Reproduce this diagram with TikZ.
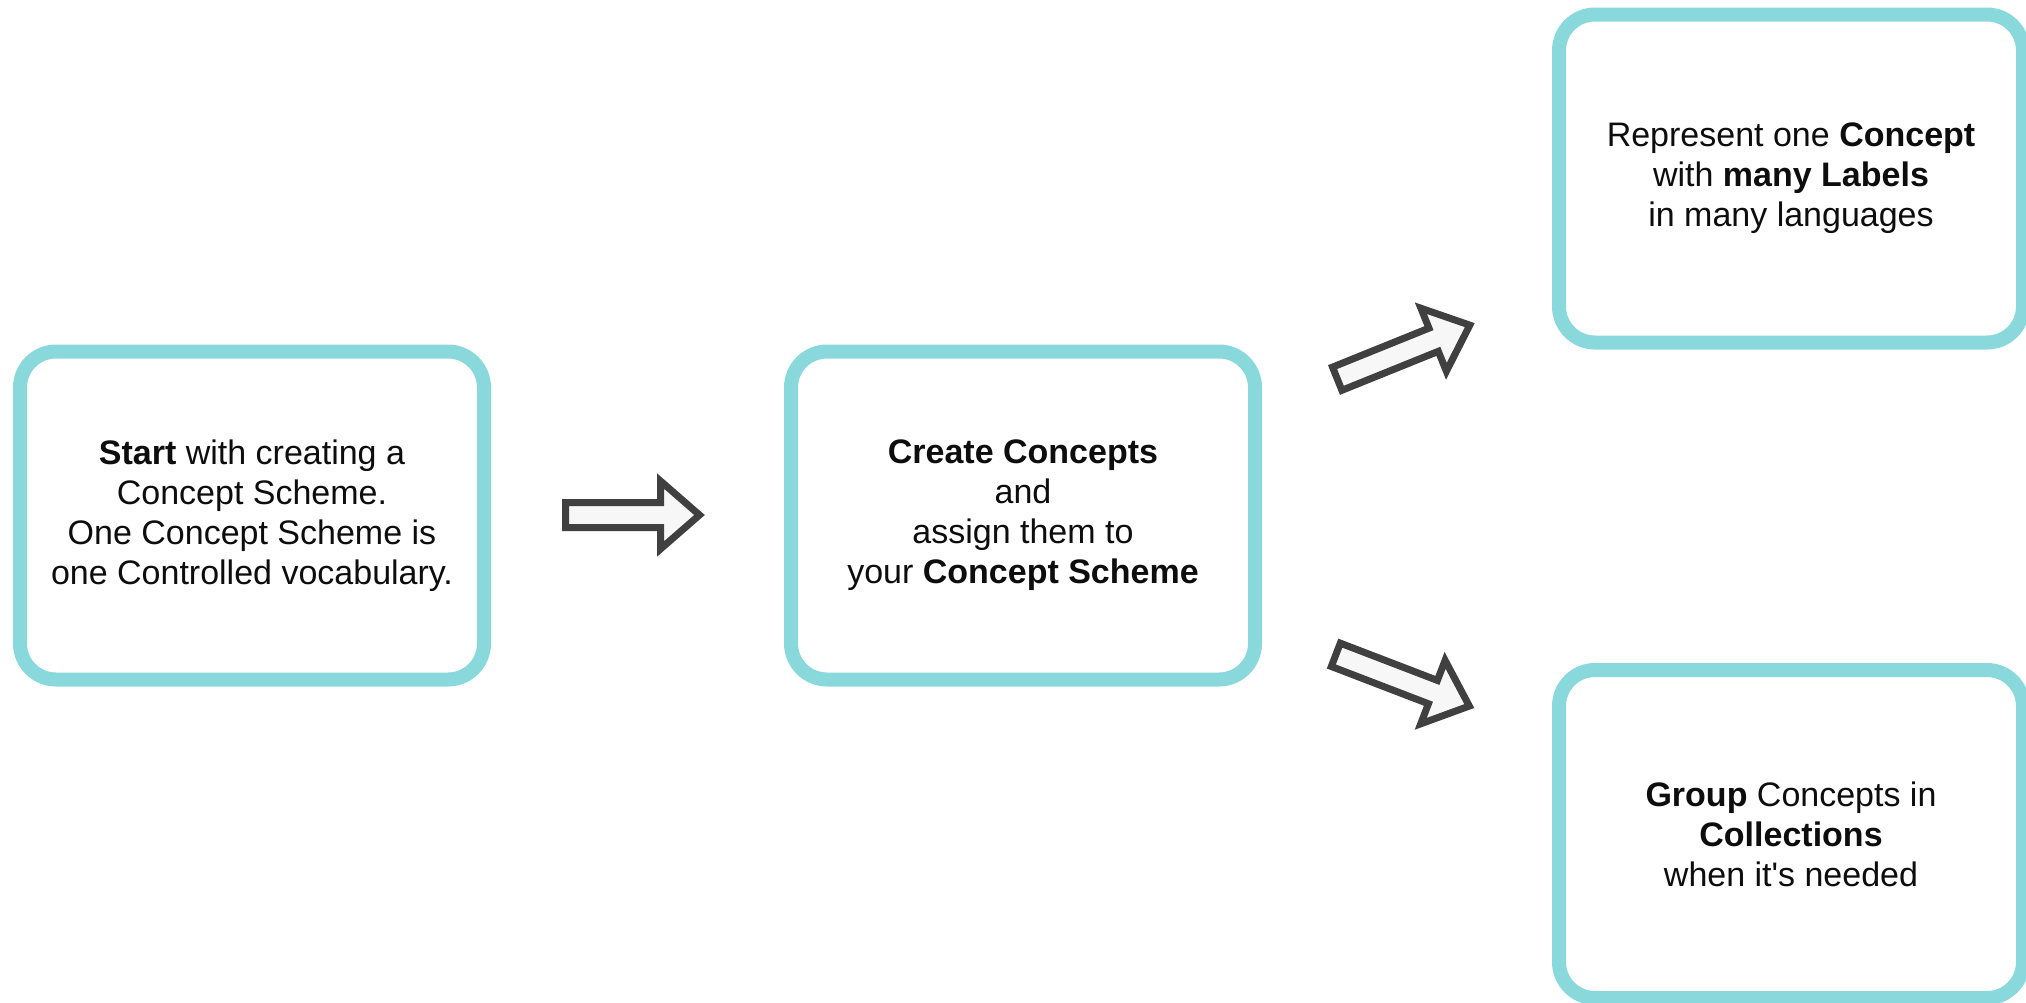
\documentclass[tikz,border=0pt]{standalone}
\usepackage{fontspec}
\setmainfont{Liberation Sans}[Ligatures=TeXOff]
\definecolor{boxteal}{HTML}{88D8DC}
\definecolor{arrowgray}{HTML}{404040}
\tikzset{
  stepbox/.style={draw=boxteal, line width=14pt, rounded corners=36pt, fill=white,
    minimum width=464pt, minimum height=328pt, align=center, inner sep=0pt,
    font=\fontsize{34}{40}\selectfont, text=black!95},
  blockarrow/.style={draw=arrowgray, line width=7pt, fill=white!97!black, line join=miter, miter limit=4}
}
\begin{document}
\begin{tikzpicture}[x=1pt,y=-1pt]
\useasboundingbox (0,0) rectangle (2026,1002);
\node[stepbox] (start) at (252,515.5) {\textbf{Start} with creating a\\Concept Scheme.\\One Concept Scheme is\\one Controlled vocabulary.};
\node[stepbox] (create) at (1023,515.5) {\textbf{Create Concepts}\\and\\assign them to\\your \textbf{Concept Scheme}};
\node[stepbox] (labels) at (1791,178.5) {Represent one \textbf{Concept}\\with \textbf{many Labels}\\in many languages};
\node[stepbox] (group) at (1791,834) {\textbf{Group} Concepts in\\\textbf{Collections}\\when it's needed};
% block arrows
\coordinate (a1) at (565.5,515);
\coordinate (a2) at (1337.2,378.7);
\coordinate (a3) at (1335.8,654.8);
\begin{scope}[shift={(a1)}]
  \draw[blockarrow] (0,-12.5) -- (95,-12.5) -- (95,-34) -- (134,0) -- (95,34) -- (95,12.5) -- (0,12.5) -- cycle;
\end{scope}
\begin{scope}[shift={(a2)}, rotate=22]
  \draw[blockarrow] (0,-12.5) -- (104,-12.5) -- (104,-34) -- (143,0) -- (104,34) -- (104,12.5) -- (0,12.5) -- cycle;
\end{scope}
\begin{scope}[shift={(a3)}, rotate=-21]
  \draw[blockarrow] (0,-12.5) -- (104,-12.5) -- (104,-34) -- (143,0) -- (104,34) -- (104,12.5) -- (0,12.5) -- cycle;
\end{scope}
\end{tikzpicture}
\end{document}
